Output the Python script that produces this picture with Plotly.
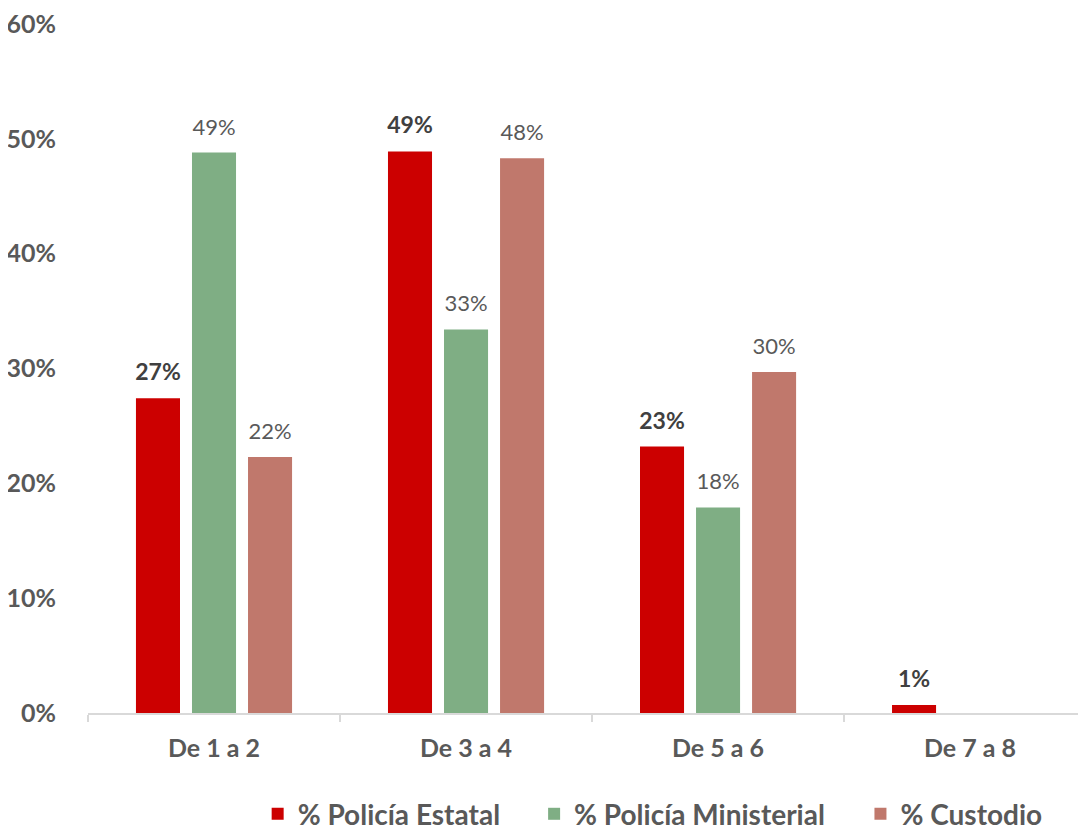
import plotly.graph_objects as go

categories = ["De 1 a 2", "De 3 a 4", "De 5 a 6", "De 7 a 8"]
estatal = [27.4, 48.9, 23.2, 0.7]
ministerial = [48.8, 33.4, 17.9, None]
custodio = [22.3, 48.3, 29.7, None]
labels_estatal = ["27%", "49%", "23%", "1%"]
labels_ministerial = ["49%", "33%", "18%", ""]
labels_custodio = ["22%", "48%", "30%", ""]
yticks = [0, 10, 20, 30, 40, 50, 60]
yticklabels = ["0%", "10%", "20%", "30%", "40%", "50%", "60%"]

FONT = "Lato"
CLEAR = "rgba(0,0,0,0)"


def label_template(size):
    # label text at full size, plus a tiny invisible line below it that lifts
    # the label a little further above the bar
    return ("<span style='font-size:%dpx'>%%{text}</span>"
            "<br><span style='color:rgba(0,0,0,0)'>.</span>" % size)


fig = go.Figure()
fig.add_trace(go.Bar(
    name="% Policía Estatal", x=categories, y=estatal, text=labels_estatal,
    texttemplate=label_template(23),
    textposition="outside", cliponaxis=False, legend="legend", constraintext="none",
    marker=dict(color="#CC0000", line=dict(width=0)),
    textfont=dict(family=FONT, size=10, color="#404040", weight="bold"),
))
fig.add_trace(go.Bar(
    name="% Policía Ministerial", x=categories, y=ministerial, text=labels_ministerial,
    texttemplate=label_template(22),
    textposition="outside", cliponaxis=False, legend="legend2", constraintext="none",
    marker=dict(color="#7FAE84", line=dict(width=0)),
    textfont=dict(family=FONT, size=10, color="#595959"),
))
fig.add_trace(go.Bar(
    name="% Custodio", x=categories, y=custodio, text=labels_custodio,
    texttemplate=label_template(22),
    textposition="outside", cliponaxis=False, legend="legend3", constraintext="none",
    marker=dict(color="#C0786C", line=dict(width=0)),
    textfont=dict(family=FONT, size=10, color="#595959"),
))

legend_font = dict(family=FONT, size=28, color="#595959", weight="bold")
legend_common = dict(orientation="h", y=-0.183, yanchor="bottom", xanchor="left",
                     font=legend_font, bgcolor=CLEAR, borderwidth=0)

fig.update_layout(
    width=1086, height=829,
    margin=dict(l=80, r=8, t=16, b=124, autoexpand=False),
    paper_bgcolor="white", plot_bgcolor="white",
    barmode="group", bargap=0.333, bargroupgap=0.214,
    font=dict(family=FONT, color="#595959"),
    showlegend=True,
    legend=dict(x=0.170, **legend_common),
    legend2=dict(x=0.447, **legend_common),
    legend3=dict(x=0.774, **legend_common),
)
fig.update_xaxes(
    range=[-0.5, 3.46], automargin=False,
    showline=True, linecolor="#D9D9D9", linewidth=2,
    ticks="outside", tickcolor="#D9D9D9", ticklen=7, tickwidth=2,
    tickson="boundaries", ticklabelstandoff=12,
    tickfont=dict(family=FONT, size=25, color="#595959", weight="bold"),
    showgrid=False,
)
fig.update_yaxes(
    range=[0, 60], tickvals=yticks, ticktext=yticklabels, automargin=False,
    showgrid=False, showline=False, zeroline=False,
    ticks="outside", ticklen=26, tickcolor=CLEAR, ticklabeloverflow="allow",
    tickfont=dict(family=FONT, size=25, color="#595959", weight="bold"),
)

fig.write_html("out.html")
